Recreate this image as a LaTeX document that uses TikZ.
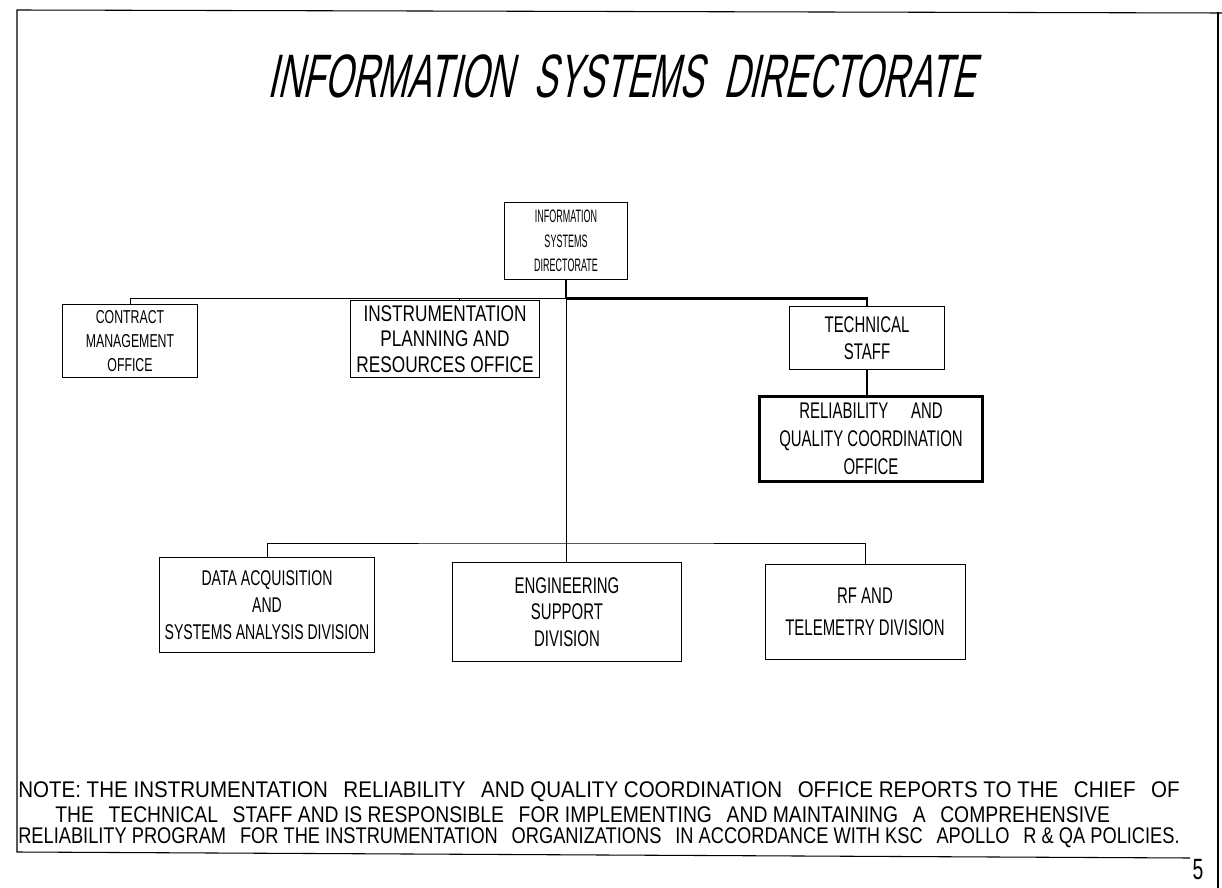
\documentclass[tikz,border=0pt]{standalone}
\usepackage{fontspec}
\usepackage{graphicx}
\setmainfont{Liberation Sans}
\newfontfamily\handfont[FakeStretch=0.66]{Liberation Sans}
\newfontfamily\widehand[FakeStretch=0.76]{Liberation Sans}
\newfontfamily\narrowhand[FakeStretch=0.5]{Liberation Sans}
\newfontfamily\titlefont[FakeStretch=0.58,FakeSlant=0.22]{Liberation Sans}
\newcommand{\noteline}[2]{\resizebox{#1}{\height}{#2}}
\usetikzlibrary{positioning,calc}

\begin{document}
\begin{tikzpicture}[
  x=0.75pt, y=-0.75pt,
  box/.style={draw, line width=0.7pt, align=center, inner sep=2pt, font=\handfont\fontsize{17}{20}\selectfont},
  heavybox/.style={box, line width=2pt, font=\handfont\fontsize{17}{21}\selectfont},
  link/.style={line width=0.7pt},
  heavy/.style={line width=2.2pt},
  note/.style={anchor=west, inner sep=0pt, font=\handfont\fontsize{17}{17}\selectfont}]
\useasboundingbox (0,0) rectangle (1222,888);
% sheet frame
\draw[line width=0.8pt] (1222,13) -- (17,10) -- (17,852) -- (1190,858);
\draw[line width=0.8pt] (1218,12) -- (1218,888);
\node[font=\titlefont\fontsize{46}{46}\selectfont] (title) at (621,76) {INFORMATION\ \ SYSTEMS\ \ DIRECTORATE};
\node[box, font=\narrowhand\fontsize{13.5}{18.5}\selectfont, minimum width=92pt, minimum height=58pt] (isd) at (566,241) {INFORMATION\\SYSTEMS\\DIRECTORATE};
\node[box, font=\handfont\fontsize{14}{18}\selectfont, minimum width=101pt, minimum height=55pt] (cmo) at (130,341) {CONTRACT\\MANAGEMENT\\OFFICE};
\node[box, font=\widehand\fontsize{17}{19}\selectfont, inner sep=1pt, minimum width=142pt, minimum height=58pt] (ipr) at (445,339) {INSTRUMENTATION\\PLANNING AND\\RESOURCES OFFICE};
\node[box, minimum width=116pt, minimum height=47pt] (ts) at (867,338) {TECHNICAL\\STAFF};
\node[heavybox, minimum width=167pt, minimum height=64pt] (rqc) at (871,439) {RELIABILITY\quad AND\\QUALITY COORDINATION\\OFFICE};
\node[box, font=\handfont\fontsize{16}{20}\selectfont, minimum width=161pt, minimum height=71pt] (dasa) at (267,605) {DATA ACQUISITION\\AND\\SYSTEMS ANALYSIS DIVISION};
\node[box, minimum width=172pt, minimum height=74pt] (esd) at (567,612) {ENGINEERING\\SUPPORT\\DIVISION};
\node[box, font=\handfont\fontsize{17}{24}\selectfont, minimum width=150pt, minimum height=71pt] (rft) at (865,612) {RF AND\\TELEMETRY DIVISION};
% connectors
\coordinate (top) at ($(isd.south)+(0,18)$);
\coordinate (bus) at (566,543);
\draw[heavy] (isd.south) -- (top);
\draw[link] (cmo.north) |- (top);
\draw[link] ([xshift=11pt]ipr.north) -- ([xshift=11pt]ipr.north |- top);
\draw[heavy] (top) -| (ts.north);
\draw[heavy] (ts.south) -- (ts.south |- rqc.north);
\draw[link] (top) -- (top |- esd.north);
\draw[link] (dasa.north) |- (bus) -| (rft.north);
% note
\node[note] (n1) at (18,792) {\noteline{871pt}{NOTE: THE INSTRUMENTATION\enspace RELIABILITY\enspace AND QUALITY COORDINATION\enspace OFFICE REPORTS TO THE\enspace CHIEF\enspace OF}};
\node[note] (n2) at (55,815) {\noteline{791pt}{THE\enspace TECHNICAL\enspace STAFF AND IS RESPONSIBLE\enspace FOR IMPLEMENTING\enspace AND MAINTAINING\enspace A\enspace COMPREHENSIVE}};
\node[note] (n3) at (18,838) {\noteline{871pt}{RELIABILITY PROGRAM\enspace FOR THE INSTRUMENTATION\enspace ORGANIZATIONS\enspace IN ACCORDANCE WITH KSC\enspace APOLLO\enspace R \& QA POLICIES.}};
\node[font=\handfont\fontsize{22}{22}\selectfont, inner sep=0pt] (page) at (1198,870) {5};
\end{tikzpicture}
\end{document}
